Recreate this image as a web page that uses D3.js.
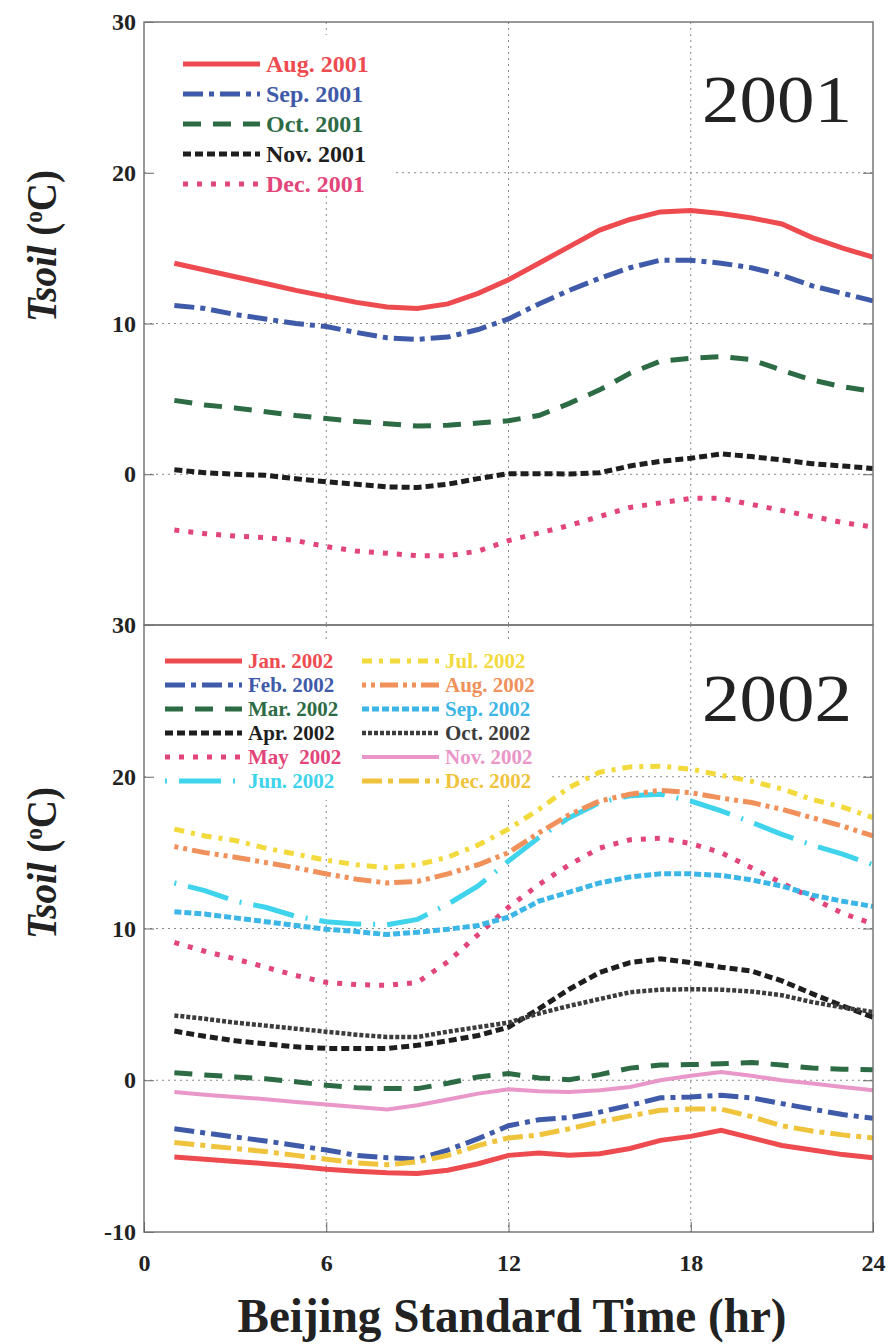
<!DOCTYPE html>
<html>
<head>
<meta charset="utf-8">
<script src="https://cdn.jsdelivr.net/npm/d3@7"></script>
<style>
  body { margin: 0; background: #fff; }
  text { font-family: "Liberation Serif", "Times New Roman", serif; }
</style>
</head>
<body>
<div class="chart"></div>
<script>
// ---- DATA (hourly means)
var hours = [1,2,3,4,5,6,7,8,9,10,11,12,13,14,15,16,17,18,19,20,21,22,23,24];
var xTicks = [0, 6, 12, 18, 24];
var yTicksTop = [0, 10, 20, 30];
var yTicksBottom = [-10, 0, 10, 20, 30];

var labels2001 = ["Aug. 2001", "Sep. 2001", "Oct. 2001", "Nov. 2001", "Dec. 2001"];
var aug2001 = [14.0,13.55,13.1,12.65,12.2,11.8,11.4,11.1,11.0,11.3,12.0,12.9,14.0,15.1,16.2,16.9,17.4,17.5,17.3,17.0,16.6,15.7,15.0,14.4];
var sep2001 = [11.2,11.0,10.6,10.3,10.0,9.8,9.4,9.05,8.95,9.1,9.6,10.3,11.3,12.2,13.0,13.7,14.2,14.2,14.0,13.7,13.2,12.5,12.0,11.5];
var oct2001 = [4.9,4.6,4.4,4.15,3.9,3.7,3.5,3.35,3.2,3.25,3.4,3.55,3.9,4.7,5.6,6.7,7.5,7.7,7.8,7.6,6.9,6.25,5.8,5.5];
var nov2001 = [0.3,0.1,0.0,-0.07,-0.3,-0.5,-0.66,-0.84,-0.88,-0.66,-0.29,0.04,0.04,0.02,0.1,0.55,0.86,1.06,1.35,1.17,0.95,0.7,0.55,0.38];
var dec2001 = [-3.7,-3.94,-4.1,-4.2,-4.4,-4.8,-5.1,-5.24,-5.4,-5.4,-5.1,-4.4,-3.9,-3.4,-2.8,-2.2,-1.9,-1.6,-1.6,-2.0,-2.4,-2.8,-3.2,-3.5];

var labels2002 = ["Jan. 2002", "Feb. 2002", "Mar. 2002", "Apr. 2002", "May  2002", "Jun. 2002",
                  "Jul. 2002", "Aug. 2002", "Sep. 2002", "Oct. 2002", "Nov. 2002", "Dec. 2002"];
var jan2002 = [-5.05,-5.2,-5.35,-5.5,-5.67,-5.87,-6.0,-6.1,-6.15,-5.93,-5.5,-4.95,-4.8,-4.95,-4.84,-4.5,-3.96,-3.7,-3.3,-3.8,-4.3,-4.6,-4.9,-5.1];
var feb2002 = [-3.2,-3.47,-3.74,-4.0,-4.3,-4.6,-4.95,-5.1,-5.2,-4.6,-3.85,-3.0,-2.6,-2.46,-2.1,-1.65,-1.16,-1.1,-0.99,-1.16,-1.54,-1.9,-2.26,-2.5];
var mar2002 = [0.5,0.35,0.22,0.1,-0.1,-0.33,-0.5,-0.55,-0.55,-0.2,0.22,0.44,0.15,0.04,0.37,0.8,1.0,1.03,1.08,1.17,1.0,0.8,0.73,0.7];
var apr2002 = [3.24,2.9,2.6,2.4,2.2,2.1,2.1,2.1,2.3,2.6,2.95,3.5,4.7,6.0,7.1,7.75,8.0,7.75,7.45,7.2,6.55,5.7,4.9,4.15];
var may2002 = [9.08,8.5,8.0,7.45,6.9,6.45,6.3,6.25,6.45,7.8,9.6,11.4,12.9,14.2,15.3,15.85,15.95,15.6,15.0,14.0,13.0,12.0,11.0,10.3];
var jun2002 = [13.0,12.5,11.8,11.4,10.8,10.45,10.3,10.25,10.6,11.6,12.8,14.45,16.0,17.3,18.3,18.75,18.85,18.4,17.75,17.0,16.2,15.5,14.9,14.2];
var jul2002 = [16.55,16.1,15.8,15.3,14.9,14.5,14.2,14.0,14.2,14.7,15.5,16.55,17.85,19.3,20.3,20.65,20.7,20.5,20.1,19.7,19.2,18.5,18.0,17.3];
var aug2002 = [15.4,15.0,14.7,14.35,14.0,13.6,13.25,13.0,13.1,13.6,14.2,15.0,16.3,17.5,18.4,18.85,19.1,18.95,18.6,18.3,17.85,17.3,16.75,16.1];
var sep2002 = [11.1,10.95,10.7,10.45,10.2,9.95,9.8,9.6,9.75,9.95,10.2,10.75,11.8,12.4,13.0,13.4,13.6,13.6,13.5,13.2,12.8,12.2,11.8,11.45];
var oct2002 = [4.27,4.05,3.8,3.6,3.4,3.2,3.0,2.85,2.85,3.2,3.5,3.8,4.4,4.9,5.35,5.8,5.97,6.0,5.97,5.85,5.6,5.15,4.8,4.5];
var nov2002 = [-0.77,-0.95,-1.1,-1.25,-1.43,-1.6,-1.76,-1.93,-1.65,-1.27,-0.88,-0.6,-0.73,-0.77,-0.66,-0.44,0.0,0.29,0.55,0.29,0.0,-0.22,-0.44,-0.66];
var dec2002 = [-4.1,-4.3,-4.5,-4.7,-4.95,-5.2,-5.45,-5.56,-5.38,-4.95,-4.3,-3.8,-3.6,-3.2,-2.75,-2.35,-1.98,-1.9,-1.9,-2.4,-3.0,-3.35,-3.6,-3.8];

// ---- line styles
var RED = "#ee4b50", BLUE = "#3f5aa8", GREEN = "#2d6b45", BLACK = "#1e1e1e", PINK = "#e2457a";
var styles2001 = [
  {color: RED, dash: null, w: 5},
  {color: BLUE, dash: "20,6,5,6", w: 5},
  {color: GREEN, dash: "18,12", w: 5},
  {color: BLACK, dash: "8,4", w: 5},
  {color: PINK, dash: "5,9", w: 5}
];
var styles2002 = [
  {color: RED, dash: null, w: 5},
  {color: BLUE, dash: "20,6,5,6", w: 5},
  {color: GREEN, dash: "18,12", w: 5},
  {color: BLACK, dash: "8,4", w: 5},
  {color: PINK, dash: "5,9", w: 5},
  {color: "#3fd3ec", dash: "2,12,42,12", w: 5},
  {color: "#f2da3c", dash: "10,7,4,7", w: 5},
  {color: "#f0905a", dash: "4,5,4,5,18,5", w: 5},
  {color: "#3cb6e6", dash: "7,3", w: 5},
  {color: "#3c3c3c", dash: "4,2", w: 4.5},
  {color: "#e996c8", dash: null, w: 4},
  {color: "#efc43c", dash: "20,6,5,6", w: 5}
];

var values2001 = [aug2001, sep2001, oct2001, nov2001, dec2001];
var values2002 = [jan2002, feb2002, mar2002, apr2002, may2002, jun2002,
                  jul2002, aug2002, sep2002, oct2002, nov2002, dec2002];

// ---- svg
var W = 893, H = 1344;
var svg = d3.select(".chart")
  .append("svg")
    .attr("width", W)
    .attr("height", H);

var x = d3.scaleLinear().domain([0, 24]).range([144, 873]);
var yTop = d3.scaleLinear().domain([-10, 30]).range([625, 22]);
var yBot = d3.scaleLinear().domain([-10, 30]).range([1232, 625]);

function drawPanel(y, ticks, values, styles, labels, legend, yearText) {
  var g = svg.append("g");
  var y0 = y.range()[1], y1 = y.range()[0];

  // -- grid
  g.selectAll(".vgrid").data([6, 12, 18]).enter().append("line")
    .attr("x1", function(d) { return x(d); }).attr("x2", function(d) { return x(d); })
    .attr("y1", y0).attr("y2", y1)
    .attr("stroke", "#888").attr("stroke-width", 1).attr("stroke-dasharray", "2,4");
  g.selectAll(".hgrid").data([0, 10, 20]).enter().append("line")
    .attr("x1", x(0)).attr("x2", x(24))
    .attr("y1", function(d) { return y(d); }).attr("y2", function(d) { return y(d); })
    .attr("stroke", "#888").attr("stroke-width", 1).attr("stroke-dasharray", "2,4");

  // -- legend background hides grid
  g.append("rect")
    .attr("x", legend.bg[0]).attr("y", legend.bg[1])
    .attr("width", legend.bg[2]).attr("height", legend.bg[3])
    .attr("fill", "#fff");

  // -- lines
  var line = d3.line()
    .x(function(d, i) { return x(hours[i]); })
    .y(function(d) { return y(d); });
  values.forEach(function(v, i) {
    g.append("path")
      .datum(v)
      .attr("d", line)
      .attr("fill", "none")
      .attr("stroke", styles[i].color)
      .attr("stroke-width", styles[i].w)
      .attr("stroke-dasharray", styles[i].dash);
  });

  // -- legend
  labels.forEach(function(lab, i) {
    var col = Math.floor(i / legend.rows), row = i % legend.rows;
    var lx = legend.x[col], ly = legend.y + row * legend.dy;
    g.append("line")
      .attr("x1", lx).attr("x2", lx + legend.len)
      .attr("y1", ly).attr("y2", ly)
      .attr("stroke", styles[i].color)
      .attr("stroke-width", styles[i].w)
      .attr("stroke-dasharray", styles[i].dash);
    g.append("text")
      .attr("x", lx + legend.len + 6).attr("y", ly)
      .attr("dy", "0.35em")
      .attr("font-size", legend.font)
      .attr("font-weight", "bold")
      .attr("fill", styles[i].color)
      .style("white-space", "pre")
      .text(lab);
  });

  // -- year
  g.append("text")
    .attr("x", 852).attr("y", yearText.y)
    .attr("text-anchor", "end")
    .attr("font-size", 68)
    .attr("textLength", 150)
    .attr("lengthAdjust", "spacingAndGlyphs")
    .attr("fill", "#222")
    .text(yearText.t);

  // -- axes
  var left = g.append("g")
    .attr("transform", "translate(" + x(0) + ",0)")
    .call(d3.axisLeft(y).tickValues(ticks).tickSizeInner(-10).tickSizeOuter(0).tickPadding(8)
      .tickFormat(function(d) { return String(d); }));
  left.select(".domain").remove();
  left.selectAll("line").attr("stroke", "#666");
  left.selectAll("text").attr("font-size", 24).attr("font-weight", "bold").attr("fill", "#222")
    .attr("font-family", "Liberation Serif");

  var right = g.append("g")
    .attr("transform", "translate(" + x(24) + ",0)")
    .call(d3.axisRight(y).tickValues([0, 10, 20]).tickSizeInner(-10).tickSizeOuter(0).tickFormat(""));
  right.select(".domain").remove();
  right.selectAll("line").attr("stroke", "#666");

  // -- frame
  g.append("rect")
    .attr("x", x(0)).attr("y", y0)
    .attr("width", x(24) - x(0)).attr("height", y1 - y0)
    .attr("fill", "none").attr("stroke", "#777").attr("stroke-width", 1.5);

  // -- y title
  var t = g.append("text")
    .attr("transform", "translate(" + 56 + "," + legend.titleY + ") rotate(-90)")
    .attr("text-anchor", "middle")
    .attr("font-size", 42)
    .attr("font-weight", "bold")
    .attr("fill", "#222");
  t.append("tspan").attr("font-style", "italic").text("Tsoil");
  t.append("tspan").text(" (");
  t.append("tspan").attr("font-size", 25).attr("dy", -14).text("o");
  t.append("tspan").attr("dy", 14).text("C)");
  // squeeze to the width measured on the figure
  var bb = t.node().getBBox();
  t.attr("transform", "translate(56," + legend.titleY + ") rotate(-90) scale(" + (152 / bb.width) + ",1)");
}

drawPanel(yTop, yTicksTop, values2001, styles2001, labels2001,
  {bg: [150, 35, 242, 160], x: [183], y: 64, dy: 30, rows: 5, len: 77, font: 24, titleY: 246},
  {y: 122, t: "2001"});

drawPanel(yBot, yTicksBottom, values2002, styles2002, labels2002,
  {bg: [150, 640, 398, 160], x: [165, 362], y: 661, dy: 24, rows: 6, len: 77, font: 21, titleY: 863},
  {y: 721, t: "2002"});

// ---- X axis (bottom panel only)
var xAxis = svg.append("g")
  .attr("transform", "translate(0," + yBot(-10) + ")")
  .call(d3.axisBottom(x).tickValues(xTicks).tickSizeInner(-10).tickSizeOuter(0).tickPadding(22));
xAxis.select(".domain").remove();
xAxis.selectAll("line").attr("stroke", "#666");
xAxis.selectAll("text").attr("font-size", 24).attr("font-weight", "bold").attr("fill", "#222")
  .attr("font-family", "Liberation Serif");

svg.append("text")
  .attr("x", 512).attr("y", 1332)
  .attr("text-anchor", "middle")
  .attr("font-size", 48)
  .attr("font-weight", "bold")
  .attr("textLength", 549)
  .attr("lengthAdjust", "spacingAndGlyphs")
  .attr("fill", "#222")
  .text("Beijing Standard Time (hr)");
</script>
</body>
</html>
